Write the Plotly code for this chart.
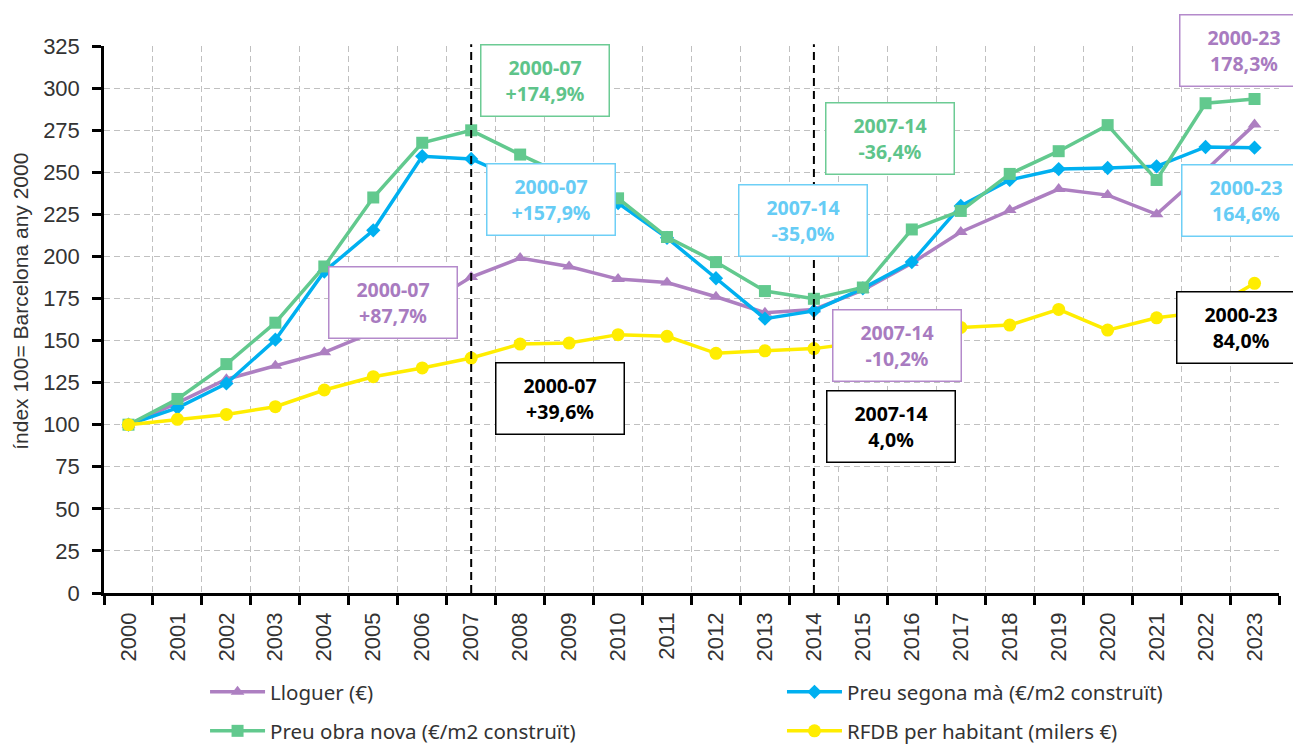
import plotly.graph_objects as go

years = list(range(2000, 2024))
year_labels = [str(y) for y in years]

lloguer = [100, 113, 127, 135, 143, 155, 170, 187.7, 199, 194, 186.5, 184.5, 176, 166.5, 168.5, 180, 196, 214.5, 227.5, 240, 236.4, 225, 251, 278.3]
segona_ma = [100, 110, 124.5, 150.5, 191, 215.5, 259.5, 257.9, 245, 238, 231.7, 211, 187, 163, 167.6, 181, 196.6, 230, 245.4, 251.9, 252.5, 253.5, 265, 264.6]
obra_nova = [100, 115.3, 136, 160.6, 194, 235, 267.5, 274.9, 260.5, 247, 234.5, 211.5, 196.6, 179.4, 174.8, 181.5, 216, 227, 249, 262.5, 278, 245.4, 291, 293.5]
rfdb = [100, 103.2, 106.1, 110.7, 120.6, 128.5, 133.7, 139.6, 147.9, 148.5, 153.5, 152.5, 142.4, 143.9, 145.2, 149, 153, 157.8, 159.2, 168.5, 156.2, 163.5, 167, 184.0]

names = ["Lloguer (€)", "Preu segona mà (€/m2 construït)", "Preu obra nova (€/m2 construït)", "RFDB per habitant (milers €)"]
series = [lloguer, segona_ma, obra_nova, rfdb]
colors = ["#AD7FC1", "#00B0F0", "#62C98E", "#FFED00"]
symbols = ["triangle-up", "diamond", "square", "circle"]
msizes = [12, 11, 12, 13]
legends = ["legend", "legend2", "legend3", "legend4"]

# annotation boxes
ann_periods = ["2000-07", "2000-07", "2000-07", "2000-07", "2007-14", "2007-14", "2007-14", "2007-14", "2000-23", "2000-23", "2000-23", "2000-23"]
ann_values = ["+174,9%", "+157,9%", "+87,7%", "+39,6%", "-36,4%", "-35,0%", "-10,2%", "4,0%", "193,5%", "178,3%", "164,6%", "84,0%"]
ann_x = [2008.51, 2008.64, 2005.41, 2008.81, 2015.55, 2013.77, 2015.70, 2015.58, 2020.19, 2022.78, 2022.83, 2022.72]
ann_y = [304.8, 233.8, 172.6, 115.3, 270.3, 221.6, 147.0, 98.9, 329.3, 322.3, 233.5, 158.0]
ann_text_colors = ["#5EC48A", "#66CCF5", "#A87BC0", "#000000", "#5EC48A", "#66CCF5", "#A87BC0", "#000000", "#5EC48A", "#A87BC0", "#66CCF5", "#000000"]
ann_border_colors = ["#6CCB94", "#6ECFF6", "#B48ACB", "#000000", "#6CCB94", "#6ECFF6", "#B48ACB", "#000000", "#6CCB94", "#B48ACB", "#6ECFF6", "#000000"]

fig = go.Figure()
for nm, s, c, sym, ms, lg in zip(names, series, colors, symbols, msizes, legends):
    fig.add_trace(go.Scatter(
        x=years, y=s, name=nm, mode="lines+markers",
        line=dict(color=c, width=3.5),
        marker=dict(symbol=sym, size=ms, color=c),
        legend=lg,
    ))

for yr in [2007, 2014]:
    fig.add_shape(type="line", xref="x", yref="paper", x0=yr, x1=yr, y0=0, y1=1.003,
                  line=dict(color="black", width=2, dash="8px,5px"), layer="above")

for p, v, x, y, tc, bc in zip(ann_periods, ann_values, ann_x, ann_y, ann_text_colors, ann_border_colors):
    fig.add_annotation(
        x=x, y=y, xref="x", yref="y", showarrow=False,
        text=f"<b>{p}</b><br><b>{v}</b>",
        font=dict(family="Noto Sans", size=19.5, color=tc),
        bgcolor="white", bordercolor=bc, borderwidth=1.5, borderpad=0,
        width=127, height=70, align="center", valign="middle",
    )

fig.add_annotation(
    x=-0.0712, y=0.533, xref="paper", yref="paper", showarrow=False,
    text="índex 100= Barcelona any 2000", textangle=-90,
    font=dict(family="Liberation Sans", size=21, color="#333333"),
    xanchor="center", yanchor="middle",
)

grid = dict(gridcolor="#C0C0C0", gridwidth=1.3, griddash="6px,4px")
legfont = dict(family="Noto Sans", size=20.5, color="#333333")


def leg(x, y):
    return dict(orientation="v", x=x, xanchor="left", y=y, yanchor="middle",
                itemwidth=55, font=legfont, bgcolor="rgba(0,0,0,0)")


# the page adds an 8px body margin, so the figure is 8px smaller and margins shifted
fig.update_layout(
    width=1293, height=736,
    margin=dict(l=96, r=22, t=38, b=151, autoexpand=False),
    paper_bgcolor="white", plot_bgcolor="white",
    font=dict(family="Liberation Sans", size=22, color="#333333"),
    xaxis=dict(
        range=[1999.5, 2023.5], tickmode="array", tickvals=years, ticktext=year_labels,
        tickangle=-90, showgrid=False, ticks="", ticklabelstandoff=8, automargin=False,
        showline=True, linecolor="black", linewidth=2.5, zeroline=False,
        minor=dict(tickmode="array", tickvals=[y + 0.5 for y in range(1999, 2024)],
                   ticks="outside", ticklen=9, tickwidth=2.5, tickcolor="black",
                   showgrid=True, **grid),
        tickfont=dict(family="Liberation Sans", size=22, color="#333333"),
    ),
    yaxis=dict(
        range=[0, 325], tickmode="linear", tick0=0, dtick=25, automargin=False,
        showgrid=True, **grid,
        ticks="outside", ticklen=9, tickwidth=2.5, tickcolor="black",
        showline=True, linecolor="black", linewidth=2.5, zeroline=False,
        ticklabelstandoff=8,
        tickfont=dict(family="Liberation Sans", size=22, color="#333333"),
    ),
    legend=leg(0.086, -0.181),
    legend2=leg(0.577, -0.181),
    legend3=leg(0.086, -0.2523),
    legend4=leg(0.577, -0.2523),
    showlegend=True,
)

fig.write_html("out.html")
